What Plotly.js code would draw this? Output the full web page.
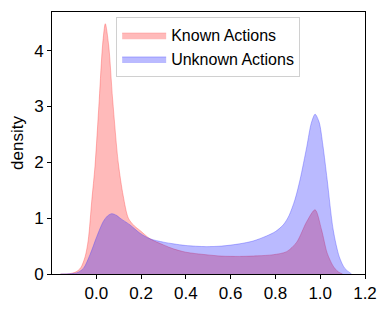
<!DOCTYPE html>
<html>
<head>
<meta charset="utf-8">
<script src="https://cdn.plot.ly/plotly-3.0.1.min.js"></script>
<style>html,body{margin:0;padding:0;background:#fff;}#chart{width:390px;height:312px;}</style>
</head>
<body>
<div id="chart"></div>
<script>
// Known Actions density
const knownX = [-0.16,-0.12,-0.09,-0.07,-0.05,-0.036,-0.02,-0.006,0.013,0.028,0.04,0.055,0.073,0.098,0.12,0.143,0.17,0.195,0.24,0.3,0.344,0.4,0.49,0.56,0.64,0.72,0.79,0.85,0.895,0.94,0.977,1.006,1.031,1.058,1.08,1.1];
const knownY = [0,0.005,0.04,0.11,0.31,0.61,1.33,1.93,3.12,4.1,4.48,4.1,3.12,1.99,1.4,1.0,0.86,0.78,0.63,0.52,0.45,0.39,0.345,0.32,0.315,0.325,0.345,0.40,0.57,0.94,1.15,0.79,0.375,0.14,0.04,0];
// Unknown Actions density
const unknownX = [-0.16,-0.12,-0.088,-0.058,-0.028,0.002,0.031,0.05,0.069,0.09,0.106,0.15,0.195,0.24,0.3,0.344,0.4,0.49,0.56,0.64,0.7,0.76,0.8,0.835,0.86,0.887,0.91,0.94,0.96,0.977,0.995,1.012,1.031,1.058,1.085,1.11,1.14];
const unknownY = [0,0.005,0.02,0.1,0.35,0.67,0.94,1.04,1.08,1.05,1.0,0.88,0.73,0.63,0.57,0.54,0.51,0.49,0.5,0.54,0.59,0.68,0.76,0.88,1.04,1.33,1.69,2.28,2.7,2.86,2.72,2.3,1.69,0.79,0.31,0.1,0];
const seriesNames = ["Known Actions", "Unknown Actions"];
const xTicks = [0.0,0.2,0.4,0.6,0.8,1.0,1.2];
const yTicks = [0,1,2,3,4];

const traces = [
  {x: knownX, y: knownY, name: seriesNames[0], type: 'scatter', mode: 'lines',
   fill: 'tozeroy', fillcolor: 'rgba(255,0,0,0.27)',
   line: {color: 'rgba(255,60,60,0.35)', width: 1, shape: 'spline', smoothing: 0.8}},
  {x: unknownX, y: unknownY, name: seriesNames[1], type: 'scatter', mode: 'lines',
   fill: 'tozeroy', fillcolor: 'rgba(0,0,255,0.27)',
   line: {color: 'rgba(60,60,255,0.35)', width: 1, shape: 'spline', smoothing: 0.8}}
];

const font = {family: 'Liberation Sans, Arial, sans-serif', color: '#000', size: 17};
const layout = {
  width: 390, height: 312,
  margin: {l: 52, r: 25, t: 12, b: 38, pad: 0},
  paper_bgcolor: '#fff', plot_bgcolor: '#fff',
  font: font,
  showlegend: true,
  legend: {x: 0.205, y: 0.98, xanchor: 'left', yanchor: 'top',
    bgcolor: 'rgba(255,255,255,0.8)', bordercolor: '#d0d0d0', borderwidth: 1,
    font: {family: font.family, size: 16, color: '#000'}, itemwidth: 44, tracegroupgap: 2},
  xaxis: {range: [-0.198, 1.2], tickvals: xTicks, ticktext: xTicks.map(v => v.toFixed(1)),
    showgrid: false, zeroline: false, showline: true, linecolor: '#000', linewidth: 1, mirror: true,
    ticks: 'outside', ticklen: 4, tickcolor: '#000', tickfont: {size: 17}},
  yaxis: {range: [0, 4.69], tickvals: yTicks, showgrid: false, zeroline: false,
    showline: true, linecolor: '#000', linewidth: 1, mirror: true,
    ticks: 'outside', ticklen: 4, tickcolor: '#000', tickfont: {size: 17},
    title: {text: 'density', font: {size: 17}, standoff: 6}}
};
Plotly.newPlot('chart', traces, layout, {staticPlot: true, displayModeBar: false});
</script>
</body>
</html>
